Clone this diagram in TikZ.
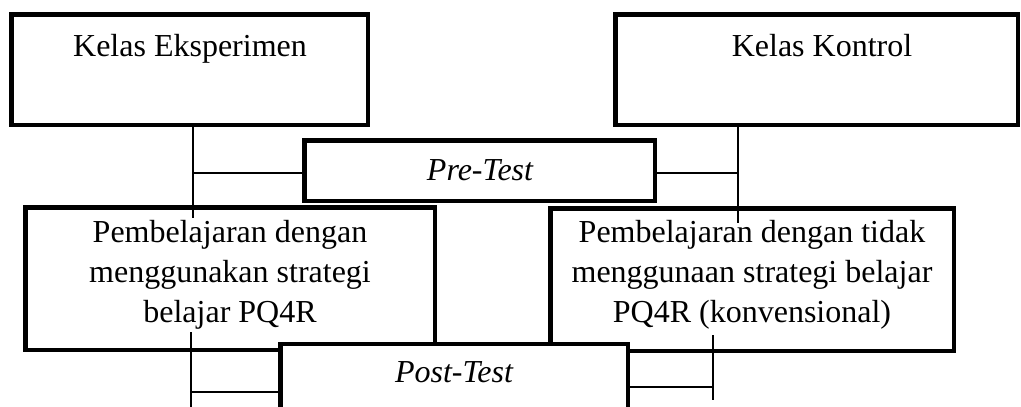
\documentclass[tikz,border=0pt]{standalone}
\usepackage{fontspec}
\setmainfont{Liberation Serif}
\begin{document}
\begin{tikzpicture}[x=1pt,y=-1pt,
  box/.style={draw, line width=4.5pt, fill=white, inner sep=0pt, rectangle},
  conn/.style={line width=1.6pt},
  txt/.style={inner sep=0pt, align=center, anchor=base, font=\fontsize{32}{40}\selectfont}]
\useasboundingbox (0,0) rectangle (1021,407);
\clip (0,0) rectangle (1021,407);
% boxes
\node[box, minimum width=356.5pt, minimum height=110.5pt] (ke) at (189.5,69.5) {};
\node[box, minimum width=402.5pt, minimum height=110.5pt] (kk) at (816.5,69.5) {};
\node[box, minimum width=350.5pt, minimum height=60.5pt] (pre) at (479.5,170.5) {};
\node[box, minimum width=409.5pt, minimum height=142.5pt] (pl) at (230,278.5) {};
\node[box, minimum width=403.5pt, minimum height=142.5pt] (pr) at (752,279.5) {};
\node[box, minimum width=347.5pt, minimum height=84.5pt] (post) at (454,386) {};
% texts
\node[txt] (keT) at (190,56) {Kelas Eksperimen};
\node[txt] (kkT) at (822,56) {Kelas Kontrol};
\node[txt] (preT) at (480,180) {\itshape Pre-Test};
\node[txt] (plT) at (230,322) {Pembelajaran dengan\\menggunakan strategi\\belajar PQ4R};
\node[txt] (prT) at (752,322) {Pembelajaran dengan tidak\\menggunaan strategi belajar\\PQ4R (konvensional)};
\node[txt] (postT) at (454,382) {\itshape Post-Test};
% connectors
\coordinate (keEnd) at (193,218);
\coordinate (preL) at (193,173);
\coordinate (kkEnd) at (738,223);
\coordinate (preR) at (738,173);
\coordinate (plTop) at (191,332);
\coordinate (plEnd) at (191,407);
\coordinate (postL) at (191,392);
\coordinate (prTop) at (713,335);
\coordinate (prEnd) at (713,400);
\coordinate (postR) at (713,387);
\draw[conn] (ke.south -| keEnd) -- (keEnd);
\draw[conn] (preL) -- (preL -| pre.west);
\draw[conn] (kk.south -| kkEnd) -- (kkEnd);
\draw[conn] (preR) -- (preR -| pre.east);
\draw[conn] (plTop) -- (plEnd);
\draw[conn] (postL) -- (postL -| post.west);
\draw[conn] (prTop) -- (prEnd);
\draw[conn] (postR) -- (postR -| post.east);
\end{tikzpicture}
\end{document}
